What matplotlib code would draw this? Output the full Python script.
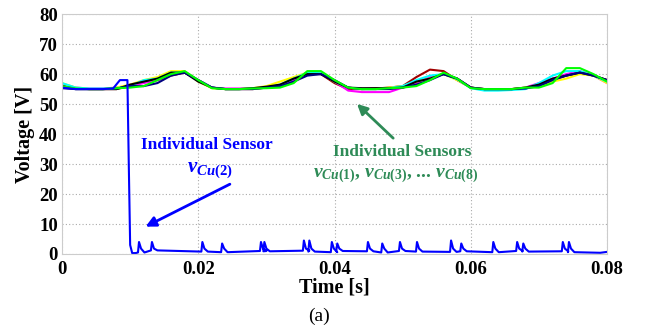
import numpy as np
import matplotlib
matplotlib.use("Agg")
import matplotlib.pyplot as plt

plt.rcParams['font.family'] = ['Liberation Serif', 'DejaVu Serif']
plt.rcParams['mathtext.fontset'] = 'custom'
plt.rcParams['mathtext.rm'] = 'Liberation Serif:bold'
plt.rcParams['mathtext.it'] = 'Liberation Serif:italic:bold'
plt.rcParams['mathtext.bf'] = 'Liberation Serif:bold'

# ---- data ----
time_grid = np.linspace(0, 0.08, 41)   # sample instants, 2 ms apart

v_dark_red = [56.5,55.3,55,55,55,56,57.5,58,59.5,60.5,58,55.5,55,55,55,55.5,56,58.5,60.5,60,57,55,55,55.2,55.5,56,59,61.5,61,58,55.5,54.8,54.8,55,55.2,56.5,58,59.5,60.5,59.5,58]
v_magenta  = [56.8,55.5,55.2,55.2,55.5,56,57,58,60,60.8,58,55.5,55.2,55.2,55.2,55.5,56,58,60.5,60.5,57.5,54.5,54,54,54,55.5,57,59,60,58.5,55.5,55,55,55,55.5,57,58.5,60,61,59.5,57]
v_yellow   = [57,55.5,55,55,55.5,56.5,58,59,61,61,57.5,55.3,55,55,55.3,56,57.5,59,60.5,60.3,57.5,55.5,55,55,55.5,56,57.5,58.5,60,58,55.5,55,55,55,55.5,56,57.5,58.5,60,59.5,57]
v_cyan     = [57,55.5,55.2,55.2,55.3,56,58,58.5,60.5,60.5,58,55.5,55,55,55.2,55.5,56.5,58.5,60.5,60.3,57.5,55.5,55,55,55.3,56,58,59.5,60,58.3,55.3,54.5,54.5,54.7,55,57,59.5,61,61,59.5,57.5]
v_black    = [56,55,55,55,55,56.5,57.5,58.5,60.5,60.5,57.5,55.5,55,55,55.3,55.8,56.5,58.5,60,60,57.5,55.5,55.3,55.3,55.3,55.5,57.5,58.5,60,58.5,55.5,55,55,55,55.5,56.5,58.5,59.5,60.5,59.5,58]
v_navy     = [55.3,55,55,55,55.2,56,56,57,59.5,60.5,58,55.5,55,55,55,55.5,56,57.5,59.5,60,58,55.5,55,55,55,55.5,56.5,58,60,58.5,55.5,55,55,55,55.2,56,58,59.5,60.5,59.5,58]
v_green    = [56,55.2,55,55,55.3,55.5,56,58,60,61,58,55.3,55,55,55.2,55.3,55.5,57,61,61,58,55.5,55,55,55.3,55.5,56,58,60.5,58.5,55.3,55,55,55,55.5,55.5,57,62,62,60,57.5]

group_series = [v_dark_red, v_magenta, v_yellow, v_cyan, v_black, v_navy, v_green]
group_colors = ['#a00000', '#ff00ff', '#ffff00', '#00ffff', '#000000', '#000080', '#00ff00']

# faulty sensor vCu(2)
blue_head_t = [0.0, 0.002, 0.004, 0.006, 0.0075, 0.0085, 0.0096, 0.0098, 0.0100, 0.0103, 0.0108]
blue_head_v = [55.5, 55.0, 55.0, 55.0, 55.2, 58.0, 58.0, 30.0, 3.0, 0.3, 0.3]
spike_times = [0.0113, 0.0132, 0.0206, 0.0235, 0.0292, 0.0297, 0.0355, 0.0363, 0.0396, 0.0404,
               0.0449, 0.0470, 0.0496, 0.0521, 0.0571, 0.0586, 0.0633, 0.0668, 0.0677, 0.0735, 0.0744]
spike_heights = [4, 4, 4, 3.5, 4, 4, 4.5, 4.5, 4, 3.5, 4, 3.5, 4, 4, 4.5, 3.5, 4, 4, 3.5, 4, 4]
blue_baseline = [0.5, 1.2, 0.8, 0.6, 1.0, 0.9, 1.1, 0.8, 0.6, 1.0, 0.9, 0.5, 1.0, 0.8, 0.7, 0.9, 0.6, 1.0, 0.8, 0.9, 0.6]

x_ticks = [0, 0.02, 0.04, 0.06, 0.08]
x_tick_labels = ['0', '0.02', '0.04', '0.06', '0.08']
y_ticks = [0, 10, 20, 30, 40, 50, 60, 70, 80]

# ---- build blue trace ----
bt = list(blue_head_t)
bv = list(blue_head_v)
for t, h, b in zip(spike_times, spike_heights, blue_baseline):
    bt += [t - 0.00015, t, t + 0.0003, t + 0.0008]
    bv += [b, h, 1.8, b]
bt += [0.079, 0.08]
bv += [0.4, 0.7]

# ---- plot ----
fig = plt.figure(figsize=(6.5, 3.29), dpi=100)
ax = fig.add_axes([0.0954, 0.228, 0.8386, 0.729])

for vals, c in zip(group_series, group_colors):
    ax.plot(time_grid, vals, color=c, lw=1.5)
ax.plot(bt, bv, color='#0000ff', lw=1.5)

ax.set_xlim(0, 0.08)
ax.set_ylim(0, 80)
ax.set_xticks(x_ticks)
ax.set_xticklabels(x_tick_labels)
ax.set_yticks(y_ticks)
ax.tick_params(length=0, labelsize=13.5)
ax.tick_params(axis='x', pad=5)
ax.tick_params(axis='y', pad=3)
for lab in ax.get_xticklabels() + ax.get_yticklabels():
    lab.set_fontweight('bold')
ax.grid(True, color='#aaaaaa', linestyle=(0, (1, 2)), lw=0.8)
for s in ax.spines.values():
    s.set_color('#cccccc')

ax.set_xlabel('Time [s]', fontsize=14.5, fontweight='bold', labelpad=0)
ax.set_ylabel('Voltage [V]', fontsize=14.5, fontweight='bold', labelpad=3)
fig.text(0.491, 0.037, '(a)', fontsize=14, ha='center', va='center')

blue = '#0000ff'
green = '#2e8b57'
ax.text(0.0213, 36.3, 'Individual Sensor', color=blue, fontsize=12.5, fontweight='bold', ha='center', va='center')
ax.text(0.0217, 28, r'$v_{Cu\mathrm{(2)}}$', color=blue, fontsize=15, ha='center', va='center')
ax.annotate('', xy=(0.0119, 8.7), xytext=(0.025, 23.7),
            arrowprops=dict(arrowstyle='-|>,head_length=0.6,head_width=0.3', color=blue, lw=2))

ax.text(0.0499, 34, 'Individual Sensors', color=green, fontsize=12.5, fontweight='bold', ha='center', va='center')
ax.text(0.049, 26, r'$v_{Cu\mathrm{(1)}}$, $v_{Cu\mathrm{(3)}}$, ... $v_{Cu\mathrm{(8)}}$',
        color=green, fontsize=14, fontweight='bold', ha='center', va='center')
ax.annotate('', xy=(0.043, 50.7), xytext=(0.0489, 38),
            arrowprops=dict(arrowstyle='-|>,head_length=0.6,head_width=0.3', color=green, lw=2))

fig.savefig('out.png', dpi=100)
